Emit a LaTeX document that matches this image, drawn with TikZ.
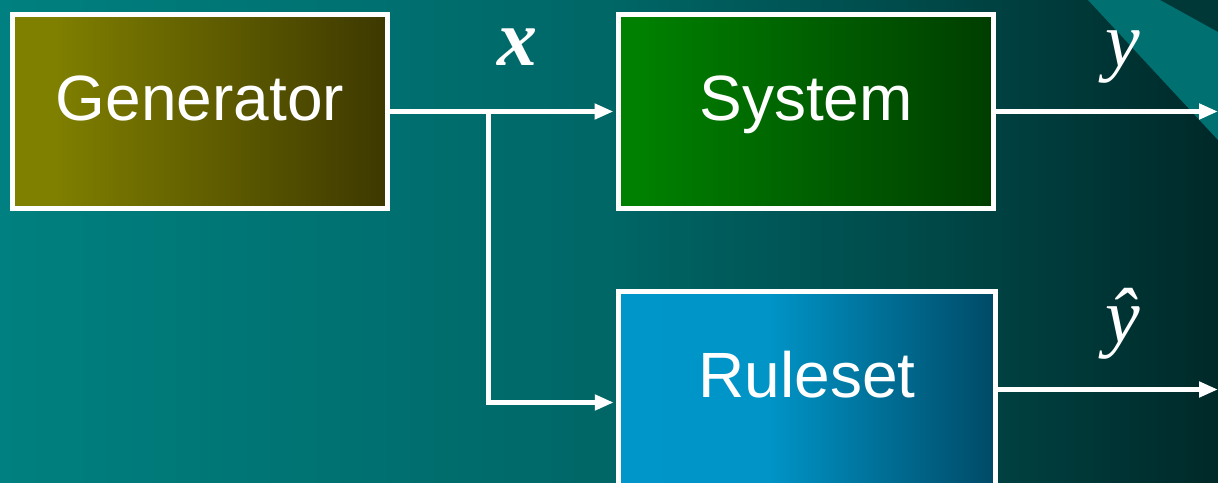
\documentclass[tikz,border=0pt]{standalone}
\usepackage{fontspec}
\setmainfont{Liberation Sans}
\newfontfamily\mathserif{Liberation Serif}
\usetikzlibrary{arrows.meta}

% horizontal shadings: the path spans 25bp..75bp of each
\pgfdeclarehorizontalshading{bgshade}{100bp}{rgb(0bp)=(0,0.502,0.502); rgb(25bp)=(0,0.502,0.502); rgb(50bp)=(0,0.40,0.40); rgb(62.5bp)=(0,0.29,0.29); rgb(75bp)=(0,0.16,0.16); rgb(100bp)=(0,0.16,0.16)}
\pgfdeclarehorizontalshading{genshade}{100bp}{rgb(0bp)=(0.502,0.502,0); rgb(30bp)=(0.502,0.502,0); rgb(75bp)=(0.24,0.22,0); rgb(100bp)=(0.24,0.22,0)}
\pgfdeclarehorizontalshading{sysshade}{100bp}{rgb(0bp)=(0,0.502,0); rgb(28bp)=(0,0.502,0); rgb(75bp)=(0,0.24,0); rgb(100bp)=(0,0.24,0)}
\pgfdeclarehorizontalshading{rulshade}{100bp}{rgb(0bp)=(0,0.6,0.8); rgb(45bp)=(0,0.58,0.78); rgb(75bp)=(0,0.29,0.40); rgb(100bp)=(0,0.29,0.40)}

\tikzset{
  block/.style={draw=white, line width=5pt, minimum width=375pt, minimum height=194pt,
    text=white, font=\fontsize{64}{64}\selectfont, text height=37pt, text depth=20pt, inner sep=0pt},
  flow/.style={draw=white, line width=5pt, -{Triangle[length=19pt,width=15pt]}},
  sym/.style={text=white, inner sep=0pt, font=\mathserif\itshape\fontsize{78}{78}\selectfont}
}

\begin{document}
\begin{tikzpicture}[x=1pt, y=-1pt]
  % backdrop
  \shade[shading=bgshade] (0,0) rectangle (1218,482);
  \fill[color={rgb,255:red,0;green,56;blue,56}] (1160,0) -- (1218,32) -- (1218,0) -- cycle;
  \fill[color={rgb,255:red,0;green,112;blue,112}] (1088,0) -- (1218,140) -- (1218,32) -- (1160,0) -- cycle;
  \useasboundingbox (0,0) rectangle (1218,482);

  % blocks
  \node[block, shading=genshade] (gen) at (200,111.5) {Generator};
  \node[block, shading=sysshade] (sys) at (806,111.5) {System};
  \node[block, shading=rulshade, minimum width=376.5pt] (rul) at (807,388.5) {Ruleset};

  % connectors
  \coordinate (split) at (488.5,111.5);
  \coordinate (bend) at (488.5,402.5);
  \coordinate (yout) at (1218,111.5);
  \coordinate (yhout) at (1218,389.5);
  \draw[flow, shorten >=2.5pt] (gen.east) -- (sys.west);
  \draw[flow, shorten >=2.5pt] (split) -- (bend) -- (bend -| rul.west);
  \draw[flow] (sys.east) -- (yout);
  \draw[flow] (rul.east |- yhout) -- (yhout);

  % signal labels
  \node[sym, font=\mathserif\bfseries\itshape\fontsize{80}{80}\selectfont, anchor=base] (lx) at (517,65) {x};
  \node[sym, anchor=base] (ly) at (1123,66) {y};
  \node[sym, anchor=base] (lyh) at (1123,342) {\^{y}};
\end{tikzpicture}
\end{document}
